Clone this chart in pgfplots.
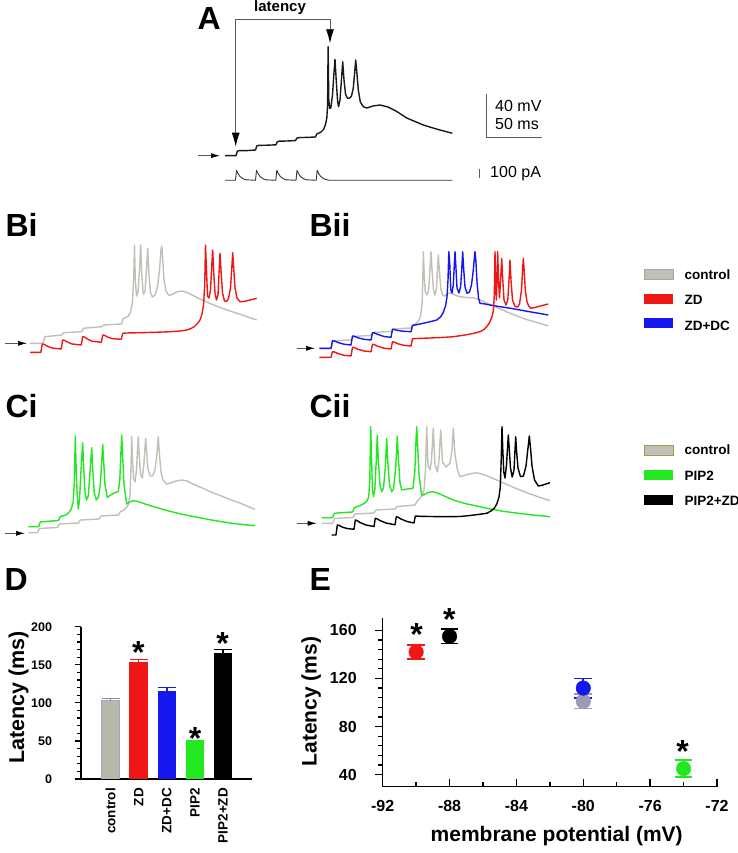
\documentclass[border=0pt]{standalone}
\usepackage{pgfplots}
\pgfplotsset{compat=1.18}
\usepackage{fontspec}
\setmainfont{Liberation Sans}
\usetikzlibrary{arrows.meta}
\definecolor{ctrl}{RGB}{192,192,182}
\definecolor{zdred}{RGB}{240,22,22}
\definecolor{zdblue}{RGB}{22,22,238}
\definecolor{pipgreen}{RGB}{34,232,34}
\definecolor{ctrlbar}{RGB}{184,184,170}
\definecolor{ctrledge}{RGB}{165,165,205}
\definecolor{ctrlerr}{RGB}{140,140,175}
\definecolor{ctrlE}{RGB}{155,155,182}
\definecolor{olivee}{RGB}{165,150,80}
\definecolor{linegray}{RGB}{90,90,90}
\begin{document}
\begin{tikzpicture}[x=1pt,y=1pt]
\path[use as bounding box] (0,0) rectangle (738,853);
% ---------------- canvas with the traces (pixel coordinates) ----------------
\begin{axis}[at={(0pt,0pt)}, anchor=south west, width=738pt, height=853pt, scale only axis,
  xmin=0, xmax=738, ymin=0, ymax=853, y dir=reverse, hide axis, clip=false]
% panel letters
\node[anchor=base west, font=\bfseries\fontsize{32}{32}\selectfont] at (axis cs:194,30) {A};
\node[anchor=base west, font=\bfseries\fontsize{32}{32}\selectfont] at (axis cs:2,237) {Bi};
\node[anchor=base west, font=\bfseries\fontsize{32}{32}\selectfont] at (axis cs:306,237) {Bii};
\node[anchor=base west, font=\bfseries\fontsize{32}{32}\selectfont] at (axis cs:2,417) {Ci};
\node[anchor=base west, font=\bfseries\fontsize{32}{32}\selectfont] at (axis cs:306,417) {Cii};
\node[anchor=base west, font=\bfseries\fontsize{32}{32}\selectfont] at (axis cs:1,590) {D};
\node[anchor=base west, font=\bfseries\fontsize{32}{32}\selectfont] at (axis cs:306,590) {E};
% ---- panel A ----
\node[anchor=base, font=\bfseries\fontsize{15}{15}\selectfont] at (axis cs:280,12) {latency};
\draw[line width=0.9pt, linegray, -{Latex[length=14pt,width=8pt,black]}] (axis cs:283,19) -- (axis cs:235.7,19) -- (axis cs:235.7,146.7);
\draw[line width=0.9pt, linegray, -{Latex[length=14pt,width=8pt,black]}] (axis cs:283,19) -- (axis cs:330,19) -- (axis cs:330,43.3);
\draw[line width=0.7pt, linegray, -{Latex[length=9pt,width=5pt,black]}] (axis cs:198,155.7) -- (axis cs:220,155.7);
\addplot[black!90, line width=1.4pt, no markers, line join=round] coordinates {
(225,155.7) (236,155.7) (237.3,151.2) (239,150.6) (247,150.6) (255.5,150) (256.8,146) (258.5,145.4) (267,145.2) (276,144.8) (277.3,141.8) (279,141.2) (287,141) (295.5,140.6) (296.8,138.2) (298.5,137.6) (307,137.4) (315.5,137) (316.8,134) (318.5,133.3) (321,132) (323.5,129.5) (325.5,124.5) (326.8,118) (327.6,105) (328.1,46.7) (328.8,100) (329.6,108.3) (330.8,108) (332.5,95) (333.8,75) (335,59.3) (336.2,80) (337.5,100) (338.5,106.7) (340,100) (341.3,82) (342.7,61.7) (344,80) (345.5,94) (347.5,98.3) (349.3,98.3) (351.5,96) (353.3,88) (354.7,72) (355.7,60) (356.8,72) (358.3,90) (360.3,102) (363.3,106.7) (366.7,108) (373,106) (380,105) (388,107) (396,111) (406.7,118) (415,121.5) (423.3,125) (432,127.7) (440,130) (452.3,133.3)};
\addplot[black!80, line width=0.9pt, no markers, line join=round] coordinates {
(225,180.3) (235.5,180.3) (236.5,170.3) (238,173.5) (240,176.5) (243,178.7) (246,179.8) (255.5,180.3) (256.5,170.3) (258,173.5) (260,176.5) (263,178.7) (266,179.8) (275.8,180.3) (276.8,170.3) (278.3,173.5) (280.3,176.5) (283.3,178.7) (286.3,179.8) (296,180.3) (297,170.3) (298.5,173.5) (300.5,176.5) (303.5,178.7) (306.5,179.8) (316.2,180.3) (317.2,170.3) (318.7,173.5) (320.7,176.5) (323.7,178.7) (327,179.8) (330,180.3) (452.3,180.3)};
\draw[line width=0.9pt, linegray] (axis cs:486.7,94.3) -- (axis cs:486.7,137.7) -- (axis cs:541.7,137.7);
\draw[line width=0.9pt, linegray] (axis cs:479.3,169.3) -- (axis cs:479.3,178.3);
\node[anchor=base west, font=\fontsize{16}{16}\selectfont] at (axis cs:491.7,111.7) {40 mV};
\node[anchor=base west, font=\fontsize{16}{16}\selectfont] at (axis cs:491.7,130) {50 ms};
\node[anchor=base west, font=\fontsize{16}{16}\selectfont] at (axis cs:486.7,177.5) {100 pA};
% ---- panel Bi ----
\draw[line width=0.7pt, linegray, -{Latex[length=9pt,width=5pt,black]}] (axis cs:5,343.3) -- (axis cs:27,343.3);
\addplot[ctrl, line width=1.4pt, no markers, line join=round] coordinates {
(30,343.3) (43,343.3) (44.8,336.7) (52,336) (61.7,335) (63.5,332.7) (72,332.3) (81.7,331.7) (83.5,328.3) (92,327.5) (101.7,326.7) (103.5,325) (112,324.5) (121.5,324) (123.3,318.3) (126,317.5) (128.5,316) (130.5,312) (132.5,302) (133.8,275) (134.5,245) (135.3,280) (136.5,296) (138,292) (139.5,270) (140.7,245) (141.8,275) (143.3,294) (145,292) (146.5,270) (147.7,248.3) (149,275) (150.5,293) (152.5,297) (155,295) (157.5,287) (159.5,270) (161,250) (161.7,246) (162.5,255) (164,280) (166,291) (168.5,295) (170,295.3) (173,294) (176.5,292) (181.7,291) (187,292.5) (193,295.5) (200,299) (210,303.5) (220,307.5) (230,311) (240,314.3) (248,317) (256.7,320)};
\addplot[zdred, line width=1.4pt, no markers, line join=round] coordinates {
(30,352.3) (40.8,352.3) (42.3,344) (44,344.3) (47,346) (52,348) (61.2,349) (62.7,340) (64.4,340.3) (67.4,342) (72,344) (81.2,345) (82.7,336.7) (84.4,337) (87.4,339) (92,341.2) (101.3,342.3) (102.8,335) (104.5,335.3) (107.5,337) (112,338.6) (121.3,339.3) (122.8,333.3) (126,333) (140,332.7) (155,332.3) (170,331.7) (180,331) (186.7,330) (191,328.5) (194.5,326.5) (197.5,323.5) (200,320) (202,314) (203.5,305) (204.7,285) (205.5,245) (206.5,270) (207.5,296) (209,298) (210.5,290) (211.8,265) (212.7,250) (213.7,272) (215,293) (216.5,300) (218,295) (219.2,270) (220,253.3) (221,270) (222.5,293) (224.5,301) (226.5,301.5) (228.5,298.5) (230.5,288) (231.8,268) (232.7,252.7) (233.7,268) (235,288) (237,298) (240,301.7) (244,301.5) (248,300.5) (252,299.5) (256.7,298.3)};
% ---- panel Bii ----
\draw[line width=0.7pt, linegray, -{Latex[length=9pt,width=5pt,black]}] (axis cs:296.7,348.3) -- (axis cs:315,348.3);
\addplot[ctrl, line width=1.4pt, no markers, line join=round] coordinates {
(319.3,348.3) (331,348.3) (332.8,341) (341,340.5) (351,340) (352.8,336.5) (361,336) (371,335.5) (372.8,332.5) (381,332) (391,331.5) (392.8,329) (401,328.5) (411,328) (412.8,325) (416,323.5) (418.5,321) (420.5,316) (422,305) (422.8,280) (423.4,251.7) (424.2,275) (425.3,292) (427,295) (428.7,290) (430,268) (431,251.7) (432,270) (433.5,290) (435,295) (436.5,288) (437.6,268) (438.3,255) (439.2,268) (440.7,288) (442.5,295) (444.5,296) (447,294) (450,293) (453,294) (456,295.5) (460,296.7) (466,297.5) (473.3,297.7) (480,300) (490,304.5) (500,309) (512,314) (525,319) (537,322.5) (548.3,326)};
\addplot[zdblue, line width=1.4pt, no markers, line join=round] coordinates {
(319.3,348.3) (331,348.3) (332.5,340.7) (334,340.8) (338,342.5) (344,344.2) (351,345) (352.5,336) (354,336.2) (358,337.8) (364,339.3) (371,340) (372.5,332.7) (374,332.8) (378,334.5) (384,336.5) (391,337.3) (392.5,329.3) (394,329.5) (398,330.5) (404,331.3) (411,331.7) (412.5,325.5) (415,325) (423.3,323.3) (431,321.5) (436.7,320) (440.5,317) (443.3,312.5) (445.5,306) (447,297) (448,280) (448.8,251.7) (449.8,265) (450.8,290) (452,293) (453.3,285) (454.3,265) (455,251.7) (455.8,265) (457,288) (459,293) (460.7,286) (461.8,268) (462.7,251.7) (463.6,268) (465,287) (467,293.3) (469.5,292) (471.5,285) (473.3,270) (474.5,256) (475,251.7) (475.8,260) (477,282) (478.5,298) (480,303.3) (485,304) (490,305) (500,306.7) (510,308.2) (520,310) (534,312.5) (548.3,315)};
\addplot[zdred, line width=1.4pt, no markers, line join=round] coordinates {
(319.3,357.3) (331,357.3) (332.5,351.7) (334,351.9) (338,353.5) (344,355.3) (351,356) (352.5,347.3) (354,347.5) (358,349.3) (364,351) (371,351.7) (372.5,344.3) (374,344.5) (378,346.3) (384,348.2) (391,349) (392.5,341.7) (394,342) (398,343.8) (404,345.3) (411,346) (412.5,338.7) (416,338.5) (430,338) (445,337.3) (453.3,336.7) (465,335) (473,333.5) (480,331.7) (484,329.5) (486.7,326.7) (489,323.5) (490.7,320) (492.2,316) (493.3,311) (494.3,295) (495,251.7) (495.7,285) (496.4,300) (497,280) (497.7,251.7) (498.5,280) (499.5,298) (500.6,280) (501.7,258.3) (502.8,280) (504,300) (506,305) (507.8,300) (509,280) (510,260) (511,280) (512.5,300) (515,306.5) (517.5,307) (519.5,304) (521.5,290) (522.7,268) (523.3,258.3) (524,268) (525.3,290) (527,302) (529,306.5) (531,308.3) (535,307.5) (541,305.8) (548.3,304)};
% legend B
\fill[ctrl, draw=black!35, line width=0.5pt] (axis cs:644,269) rectangle (axis cs:673.3,279);
\fill[zdred] (axis cs:644,294.3) rectangle (axis cs:673.3,304.3);
\fill[zdblue] (axis cs:644,317.7) rectangle (axis cs:673.3,327.7);
\node[anchor=base west, font=\bfseries\fontsize{13.5}{13.5}\selectfont] at (axis cs:681,279.3) {control};
\node[anchor=base west, font=\bfseries\fontsize{13.5}{13.5}\selectfont] at (axis cs:681,305) {ZD};
\node[anchor=base west, font=\bfseries\fontsize{13.5}{13.5}\selectfont] at (axis cs:681,330) {ZD+DC};
% ---- panel Ci ----
\draw[line width=0.7pt, linegray, -{Latex[length=9pt,width=5pt,black]}] (axis cs:5,533.3) -- (axis cs:25,533.3);
\addplot[ctrl, line width=1.4pt, no markers, line join=round] coordinates {
(28.3,532.7) (37.5,532.7) (39.3,528.5) (48,528) (57.5,527.5) (59.3,524) (68,523.5) (78.5,523) (80.3,520) (90,519.5) (99,519) (100.8,516) (110,515.5) (118.5,515) (120.3,511.7) (123,510.5) (125.5,508.5) (128.3,505) (130,495) (130.9,470) (131.7,436.7) (132.5,460) (133.5,478) (135,482) (136.5,470) (137.5,450) (138.3,436.7) (139.2,455) (140.5,474) (142.3,478) (143.8,465) (145,448) (145.7,438.3) (146.5,450) (147.8,468) (150,476) (152.5,476) (155,470) (156.8,455) (158.3,436.7) (159.5,455) (161,472) (163,480) (166.7,484) (172,482.5) (176,481) (181.7,480) (187,481) (193,484) (200,487) (210,491.5) (220,495.5) (230,499.5) (240,503) (248,506.5) (255,509.5)};
\addplot[pipgreen, line width=1.4pt, no markers, line join=round] coordinates {
(28.3,526.7) (38.5,526.7) (40.3,522) (49,521.2) (58.5,520.5) (60.3,516.5) (65,515.3) (68.3,513.3) (71.2,509) (73.2,502) (74.4,480) (75.3,436) (76.2,470) (77.2,495) (78.3,509) (79.5,500) (81,470) (82.7,442.7) (83.8,470) (85,492) (86.5,500) (88.3,496) (89.8,475) (91.7,447.7) (92.8,470) (94.3,493) (96.3,500) (98.5,497) (100.3,485) (101.7,462) (102.7,444.3) (103.7,462) (105,485) (107.3,497.5) (110,495.5) (114,493) (118.3,491.5) (119.8,480) (120.8,455) (121.7,435) (122.6,455) (124,485) (126.7,504) (129.5,502) (133.3,500.7) (138,501.5) (145,504) (155,507) (166.7,510.5) (183,514.5) (200,517.8) (216,520.8) (233.3,523.5) (255,525.7)};
% ---- panel Cii ----
\draw[line width=0.7pt, linegray, -{Latex[length=9pt,width=5pt,black]}] (axis cs:296.7,523.3) -- (axis cs:316.7,523.3);
\addplot[ctrl, line width=1.4pt, no markers, line join=round] coordinates {
(321.7,523.3) (332.5,523.3) (334.5,518.5) (343,518) (353,517.5) (355,514) (364,513.5) (374,513) (376,510) (385,509.5) (395,509) (397,506.5) (406,505.8) (415,505) (417,501.5) (421.7,496) (424,490) (425.5,470) (426.7,426.7) (428,465) (430,470) (431.5,460) (433.3,428.3) (435,465) (437.5,472) (439,460) (440.7,430) (442.5,462) (446,467) (450,463) (452,450) (453.3,428.3) (455,455) (457.5,470) (460,476.7) (467,474.5) (476.7,472.7) (485,475) (500,481.5) (515,488) (530,494) (550,500.7)};
\addplot[pipgreen, line width=1.4pt, no markers, line join=round] coordinates {
(321.7,517.7) (332.5,517.7) (334.3,513.3) (343,512.6) (352.5,512) (354.3,507.7) (360,505.5) (364,503.5) (366.7,501.5) (368.7,497) (369.8,480) (370.7,426.7) (371.6,460) (372.5,490) (373.5,496.7) (374.8,490) (376.2,462) (377.3,435) (378.3,460) (380,485) (381.7,491.7) (383.5,488) (385.3,468) (386.7,438.3) (387.8,462) (389.5,485) (391.7,491.7) (393.5,489) (395.8,466) (397.3,436) (398.5,460) (400,483) (401.7,490) (405,489.3) (409,488.8) (413,488.3) (414.8,472) (416,440) (416.7,426.7) (417.6,445) (419,475) (421.7,495) (424,494.8) (427,493) (431.7,491.7) (436,492.5) (442,495) (453.3,500) (465,503.5) (476.7,506) (486.7,508.3) (503,511.3) (520,513.5) (535,515.2) (550,516.7)};
\addplot[black, line width=1.4pt, no markers, line join=round] coordinates {
(331.7,535) (336,535) (337.3,525) (339,525.3) (342,527) (347,528.5) (354,529.3) (355.3,520) (357,520.5) (360,522.5) (366,525) (374,526.5) (375.3,518.3) (377,518.8) (380,520.5) (386,523) (395,524.8) (396.3,516.7) (398,517.2) (401,519) (407,521.5) (414,523) (415.3,516) (420,516.3) (430,516.5) (445,516.7) (460,516.5) (470,515.5) (478,514.5) (486.7,513.3) (491,511) (494.5,508) (497,503.5) (499,497) (500.3,486.7) (501.2,460) (502,426.7) (502.8,450) (503.8,472) (505,478) (506.5,465) (507.5,448) (508.3,435) (509.2,448) (510.5,468) (512.2,477) (514,470) (515,450) (515.7,436.7) (516.5,450) (518,468) (520.5,476.7) (523.5,476) (526,466) (528,448) (529.3,436) (530.5,448) (532,466) (534.5,480) (538.3,486) (542,485.3) (546,484) (550,482.7)};
% legend C
\fill[ctrl, draw=olivee, line width=0.8pt] (axis cs:644,445) rectangle (axis cs:673.3,455);
\fill[pipgreen] (axis cs:644,470) rectangle (axis cs:673.3,480);
\fill[black] (axis cs:644,495) rectangle (axis cs:673.3,505);
\node[anchor=base west, font=\bfseries\fontsize{13.5}{13.5}\selectfont] at (axis cs:681,454.5) {control};
\node[anchor=base west, font=\bfseries\fontsize{13.5}{13.5}\selectfont] at (axis cs:681,480) {PIP2};
\node[anchor=base west, font=\bfseries\fontsize{13.5}{13.5}\selectfont] at (axis cs:681,505) {PIP2+ZD};
% asterisks of D and E
\node[anchor=base, font=\bfseries\fontsize{32}{32}\selectfont] at (axis cs:138.3,663) {*};
\node[anchor=base, font=\bfseries\fontsize{32}{32}\selectfont] at (axis cs:195,749.7) {*};
\node[anchor=base, font=\bfseries\fontsize{32}{32}\selectfont] at (axis cs:222.7,654.3) {*};
\node[anchor=base, font=\bfseries\fontsize{32}{32}\selectfont] at (axis cs:416.7,645.3) {*};
\node[anchor=base, font=\bfseries\fontsize{32}{32}\selectfont] at (axis cs:449.3,630.3) {*};
\node[anchor=base, font=\bfseries\fontsize{32}{32}\selectfont] at (axis cs:682.7,762) {*};
\end{axis}
% ---------------- panel D ----------------
\begin{axis}[at={(81pt,74pt)}, anchor=south west, width=171pt, height=152.3pt, scale only axis,
  xmin=-1.05, xmax=5.03, ymin=0, ymax=200,
  axis x line=bottom, axis y line=left, axis line style={-, line width=1.5pt},
  ytick={0,50,100,150,200}, yticklabels={0,50,100,150,200}, minor y tick num=4,
  xtick={0,1,2,3,4}, xticklabels={control,ZD,ZD+DC,PIP2,PIP2+ZD},
  xtick style={draw=none},
  ytick style={line width=1.3pt, black},
  tick align=outside, major tick length=5.5pt, minor tick length=3.5pt,
  yticklabel shift=20pt,
  yticklabel style={font=\bfseries\fontsize{12.5}{12.5}\selectfont},
  xticklabel style={rotate=90, anchor=east, font=\bfseries\fontsize{13.5}{13.5}\selectfont},
  ylabel={Latency (ms)},
  ylabel style={at={(axis description cs:-0.3333,0.535)}, anchor=base, font=\bfseries\fontsize{21.5}{21.5}\selectfont},
]
\addplot[ybar, bar width=18.5pt, bar shift=0pt, fill=ctrlbar, draw=ctrledge, line width=0.9pt,
  error bars/.cd, y dir=plus, y explicit, error bar style={line width=1.5pt, color=ctrlerr},
  error mark options={rotate=90, line width=1.5pt, mark size=9pt, color=ctrlerr}] coordinates {(0,103) +- (0,3)};
\addplot[ybar, bar width=18.5pt, bar shift=0pt, fill=zdred, draw=none,
  error bars/.cd, y dir=plus, y explicit, error bar style={line width=1.5pt, color=zdred},
  error mark options={rotate=90, line width=1.5pt, mark size=9pt, color=zdred}] coordinates {(1,153) +- (0,4)};
\addplot[ybar, bar width=18.5pt, bar shift=0pt, fill=zdblue, draw=none,
  error bars/.cd, y dir=plus, y explicit, error bar style={line width=1.5pt, color=zdblue},
  error mark options={rotate=90, line width=1.5pt, mark size=9pt, color=zdblue}] coordinates {(2,116) +- (0,4)};
\addplot[ybar, bar width=18.5pt, bar shift=0pt, fill=pipgreen, draw=none,
  error bars/.cd, y dir=plus, y explicit, error bar style={line width=1.5pt, color=pipgreen},
  error mark options={rotate=90, line width=1.5pt, mark size=9pt, color=pipgreen}] coordinates {(3,48) +- (0,2)};
\addplot[ybar, bar width=18.5pt, bar shift=0pt, fill=black, draw=none,
  error bars/.cd, y dir=plus, y explicit, error bar style={line width=1.5pt, color=black},
  error mark options={rotate=90, line width=1.5pt, mark size=9pt, color=black}] coordinates {(4,165) +- (0,5)};
\end{axis}
% ---------------- panel E ----------------
\begin{axis}[at={(382.7pt,66.3pt)}, anchor=south west, width=334.3pt, height=168.4pt, scale only axis,
  xmin=-92, xmax=-72, ymin=30, ymax=170,
  axis x line=bottom, axis y line=left, axis line style={-, line width=1.5pt},
  xtick={-92,-88,-84,-80,-76,-72}, xticklabels={-92,-88,-84,-80,-76,-72}, minor x tick num=1,
  ytick={40,80,120,160}, yticklabels={40,80,120,160}, minor y tick num=4,
  xtick align=inside, ytick align=outside,
  major tick length=7.5pt, minor tick length=4.5pt,
  tick style={line width=1.3pt, black},
  xticklabel shift=10pt, yticklabel shift=15pt,
  xticklabel style={font=\bfseries\fontsize{16}{16}\selectfont},
  yticklabel style={font=\bfseries\fontsize{16}{16}\selectfont},
  xlabel={membrane potential (mV)},
  xlabel style={at={(axis description cs:0.5205,0)}, anchor=base, yshift=-54.3pt, font=\bfseries\fontsize{21}{21}\selectfont},
  ylabel={Latency (ms)},
  ylabel style={at={(axis description cs:-0.1974,0.5048)}, anchor=base, font=\bfseries\fontsize{21}{21}\selectfont},
]
\addplot[only marks, mark=*, mark size=7.3pt, color=ctrlE,
  error bars/.cd, y dir=both, y explicit, error bar style={line width=1.8pt, color=ctrlE},
  error mark options={rotate=90, line width=1.8pt, mark size=8.8pt, color=ctrlE}] coordinates {(-80,101) +- (0,6)};
\addplot[only marks, mark=*, mark size=7.3pt, color=zdblue,
  error bars/.cd, y dir=both, y explicit, error bar style={line width=1.8pt, color=zdblue},
  error mark options={rotate=90, line width=1.8pt, mark size=8.8pt, color=zdblue}] coordinates {(-80,112) +- (0,8)};
\addplot[only marks, mark=*, mark size=7.3pt, color=zdred,
  error bars/.cd, y dir=both, y explicit, error bar style={line width=1.8pt, color=zdred},
  error mark options={rotate=90, line width=1.8pt, mark size=8.8pt, color=zdred}] coordinates {(-90,142) +- (0,6)};
\addplot[only marks, mark=*, mark size=7.3pt, color=black,
  error bars/.cd, y dir=both, y explicit, error bar style={line width=1.8pt, color=black},
  error mark options={rotate=90, line width=1.8pt, mark size=8.8pt, color=black}] coordinates {(-88,155) +- (0,6)};
\addplot[only marks, mark=*, mark size=7.3pt, color=pipgreen,
  error bars/.cd, y dir=both, y explicit, error bar style={line width=1.8pt, color=pipgreen},
  error mark options={rotate=90, line width=1.8pt, mark size=8.8pt, color=pipgreen}] coordinates {(-74,45) +- (0,7)};
\end{axis}
\end{tikzpicture}
\end{document}
